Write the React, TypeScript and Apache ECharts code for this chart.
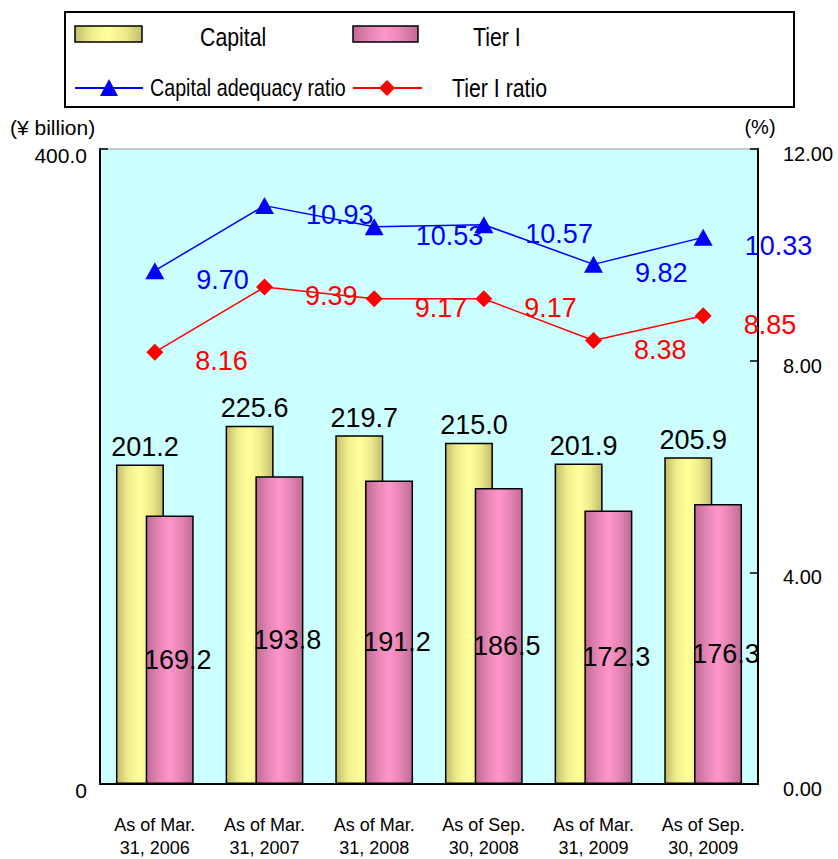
import React, { useEffect, useRef } from "react";
import * as echarts from "echarts";

const categories = [
  "As of Mar.\n31, 2006",
  "As of Mar.\n31, 2007",
  "As of Mar.\n31, 2008",
  "As of Sep.\n30, 2008",
  "As of Mar.\n31, 2009",
  "As of Sep.\n30, 2009",
];
const capital = [201.2, 225.6, 219.7, 215.0, 201.9, 205.9];
const tier1 = [169.2, 193.8, 191.2, 186.5, 172.3, 176.3];
const capitalRatio = [9.7, 10.93, 10.53, 10.57, 9.82, 10.33];
const tier1Ratio = [8.16, 9.39, 9.17, 9.17, 8.38, 8.85];
const seriesNames = ["Capital", "Tier I", "Capital adequacy ratio", "Tier I ratio"];

const NUM_FONT = "'Liberation Sans', Arial, sans-serif";
const NARROW = 0.82;

const yellowGrad = () =>
  new echarts.graphic.LinearGradient(0, 0, 1, 0, [
    { offset: 0, color: "#c2bd6a" },
    { offset: 0.25, color: "#eeee8e" },
    { offset: 0.5, color: "#ffff9a" },
    { offset: 0.75, color: "#eeea8c" },
    { offset: 1, color: "#c2bd6a" },
  ]);
const pinkGrad = () =>
  new echarts.graphic.LinearGradient(0, 0, 1, 0, [
    { offset: 0, color: "#c06a94" },
    { offset: 0.25, color: "#e484b4" },
    { offset: 0.5, color: "#ff96cb" },
    { offset: 0.75, color: "#e484b4" },
    { offset: 1, color: "#c06a94" },
  ]);

export default function App() {
  const ref = useRef<HTMLDivElement>(null);
  useEffect(() => {
    if (!ref.current) return;
    const chart = echarts.init(ref.current, null, { renderer: "svg" });
    const lineLabel = (color: string) => ({
      show: true,
      position: "right",
      distance: 32,
      offset: [0, 9],
      color,
      fontSize: 27,
      fontFamily: NUM_FONT,
      formatter: (p: any) => Number(p.value).toFixed(2),
    });
    const legendText = (x: number, y: number, text: string, size: number) => ({
      type: "text",
      x,
      y,
      scaleX: NARROW,
      style: { text, fontSize: size, fontFamily: NUM_FONT, fill: "#000", verticalAlign: "middle" },
    });
    chart.setOption({
      animation: false,
      backgroundColor: "#ffffff",
      grid: {
        left: 100,
        right: 80,
        top: 149,
        bottom: 74,
        show: true,
        backgroundColor: "#ccffff",
        borderColor: "#999999",
        borderWidth: 1,
      },
      xAxis: {
        type: "category",
        data: categories,
        axisLine: { lineStyle: { color: "#000", width: 2 } },
        axisTick: { inside: true, length: 8, lineStyle: { color: "#000", width: 1.5 } },
        axisLabel: {
          color: "#000",
          fontSize: 18,
          lineHeight: 23,
          fontFamily: NUM_FONT,
          margin: 29,
          align: "center",
          interval: 0,
        },
      },
      yAxis: [
        {
          type: "value",
          min: 0,
          max: 400,
          interval: 400,
          axisLine: { show: true, lineStyle: { color: "#000", width: 2 } },
          axisTick: { show: true, inside: true, length: 8, lineStyle: { color: "#000", width: 1.5 } },
          splitLine: { show: false },
          axisLabel: {
            color: "#000",
            fontSize: 21,
            fontFamily: NUM_FONT,
            margin: 13,
            verticalAlign: "top",
            lineHeight: 12,
            formatter: (v: number) => (v === 0 ? "0" : v.toFixed(1)),
          },
        },
        {
          type: "value",
          min: 0,
          max: 12,
          interval: 4,
          position: "right",
          axisLine: { show: true, lineStyle: { color: "#000", width: 2 } },
          axisTick: { show: true, inside: true, length: 8, lineStyle: { color: "#000", width: 1.5 } },
          splitLine: { show: false },
          axisLabel: {
            color: "#000",
            fontSize: 20,
            fontFamily: NUM_FONT,
            margin: 25,
            verticalAlign: "top",
            lineHeight: 10,
            formatter: (v: number) => v.toFixed(2),
          },
        },
      ],
      series: [
        {
          name: seriesNames[0],
          type: "bar",
          data: capital,
          barWidth: 48,
          barGap: "-38%",
          itemStyle: { color: yellowGrad(), borderColor: "#000", borderWidth: 1.5 },
          label: {
            show: true,
            position: "top",
            distance: 4,
            offset: [5, 0],
            color: "#000",
            fontSize: 27,
            fontFamily: NUM_FONT,
            formatter: (p: any) => Number(p.value).toFixed(1),
          },
          z: 2,
        },
        {
          name: seriesNames[1],
          type: "bar",
          data: tier1,
          barWidth: 48,
          barGap: "-38%",
          itemStyle: { color: pinkGrad(), borderColor: "#000", borderWidth: 1.5 },
          label: {
            show: true,
            position: "inside",
            offset: [8, 10],
            color: "#000",
            fontSize: 27,
            fontFamily: NUM_FONT,
            formatter: (p: any) => Number(p.value).toFixed(1),
          },
          z: 3,
        },
        {
          name: seriesNames[2],
          type: "line",
          yAxisIndex: 1,
          data: capitalRatio,
          symbol: "triangle",
          symbolSize: [19, 17],
          lineStyle: { color: "#0000ff", width: 1.5 },
          itemStyle: { color: "#0000ff" },
          label: lineLabel("#0000ff"),
          z: 5,
        },
        {
          name: seriesNames[3],
          type: "line",
          yAxisIndex: 1,
          data: tier1Ratio,
          symbol: "diamond",
          symbolSize: [17, 17],
          lineStyle: { color: "#ff0000", width: 1.5 },
          itemStyle: { color: "#ff0000" },
          label: lineLabel("#ff0000"),
          z: 5,
        },
      ],
      graphic: [
        {
          type: "rect",
          shape: { x: 65, y: 12, width: 729, height: 95 },
          style: { fill: "#fff", stroke: "#000", lineWidth: 2 },
        },
        {
          type: "rect",
          shape: { x: 75, y: 26, width: 67, height: 16 },
          style: { fill: yellowGrad(), stroke: "#000", lineWidth: 1.5 },
        },
        legendText(200, 37, seriesNames[0], 26),
        {
          type: "rect",
          shape: { x: 353, y: 26, width: 65, height: 16 },
          style: { fill: pinkGrad(), stroke: "#000", lineWidth: 1.5 },
        },
        legendText(473, 37, seriesNames[1], 26),
        {
          type: "line",
          shape: { x1: 75, y1: 88, x2: 143, y2: 88 },
          style: { stroke: "#0000ff", lineWidth: 2 },
        },
        {
          type: "polygon",
          shape: { points: [[109, 79], [100, 96], [118, 96]] },
          style: { fill: "#0000ff" },
        },
        legendText(150, 88, seriesNames[2], 24),
        {
          type: "line",
          shape: { x1: 353, y1: 88, x2: 422, y2: 88 },
          style: { stroke: "#ff0000", lineWidth: 2 },
        },
        {
          type: "polygon",
          shape: { points: [[387, 80], [395, 88], [387, 96], [379, 88]] },
          style: { fill: "#ff0000" },
        },
        legendText(452, 88, seriesNames[3], 26),
        {
          type: "text",
          x: 10,
          y: 127,
          style: { text: "(¥ billion)", fontSize: 21, fontFamily: NUM_FONT, fill: "#000", verticalAlign: "middle" },
        },
        {
          type: "text",
          x: 760,
          y: 127,
          style: { text: "(%)", fontSize: 20, fontFamily: NUM_FONT, fill: "#000", verticalAlign: "middle", align: "center" },
        },
      ],
    });
    return () => chart.dispose();
  }, []);
  return <div ref={ref} style={{ width: 838, height: 859, position: "absolute", left: 0, top: 0 }} />;
}
